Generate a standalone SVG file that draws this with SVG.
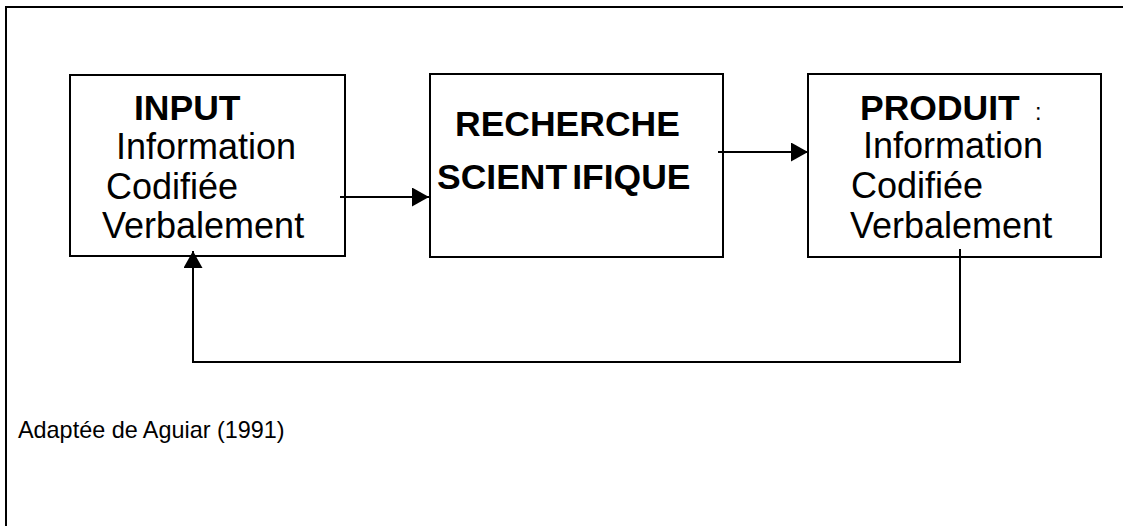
<svg xmlns="http://www.w3.org/2000/svg" width="1123" height="526" viewBox="0 0 1123 526">
<style>
.box{fill:#fff;stroke:#000;stroke-width:2}
.ln{fill:none;stroke:#000;stroke-width:2}
.b{font-family:"Liberation Sans",Arial,sans-serif;font-weight:bold;font-size:35.5px;fill:#000}
.r{font-family:"Liberation Sans",Arial,sans-serif;font-size:36px;fill:#000}
.s{font-family:"Liberation Sans",Arial,sans-serif;font-size:23.4px;fill:#000}
</style>
<defs>
<marker id="ah" markerUnits="userSpaceOnUse" markerWidth="18" markerHeight="20" refX="17" refY="9.5" orient="auto" viewBox="0 0 18 20">
<path d="M0,0 L17,9.5 L0,19 Z" fill="#000"/>
</marker>
</defs>
<rect width="1123" height="526" fill="#fff"/>
<path id="frame" class="ln" d="M6,526 V7 H1123"/>
<g id="input">
<rect class="box" x="70" y="75" width="275" height="181"/>
<text class="b" x="134" y="120">INPUT</text>
<text class="r" x="116" y="159">Information</text>
<text class="r" x="106" y="199">Codifiée</text>
<text class="r" x="102" y="238">Verbalement</text>
</g>
<g id="recherche">
<rect class="box" x="430" y="74" width="293" height="183"/>
<text class="b" x="455" y="136">RECHERCHE</text>
<text class="b" x="437" y="189">SCIENT<tspan dx="5">IFIQUE</tspan></text>
</g>
<g id="produit">
<rect class="box" x="808" y="74" width="293" height="183"/>
<text class="b" x="860" y="120">PRODUIT</text>
<text class="s" x="1035" y="120">:</text>
<text class="r" x="863" y="158">Information</text>
<text class="r" x="851" y="198">Codifiée</text>
<text class="r" x="850" y="238">Verbalement</text>
</g>
<g id="connectors">
<line class="ln" x1="340" y1="197" x2="429" y2="197" marker-end="url(#ah)"/>
<line class="ln" x1="718" y1="152" x2="808" y2="152" marker-end="url(#ah)"/>
<path class="ln" d="M960,249 V362 H193 V251" marker-end="url(#ah)"/>
</g>
<text id="source" class="s" x="18" y="438">Adaptée de Aguiar (1991)</text>
</svg>
